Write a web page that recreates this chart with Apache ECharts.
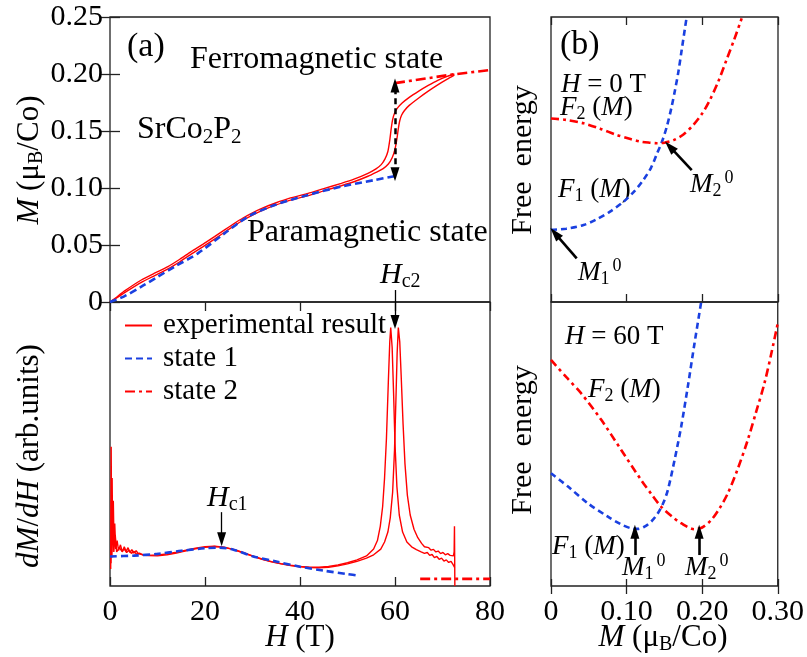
<!DOCTYPE html>
<html>
<head>
<meta charset="utf-8">
<script src="https://cdn.jsdelivr.net/npm/echarts@6/dist/echarts.min.js"></script>
<style>html,body{margin:0;padding:0;background:#fff}#c{width:807px;height:657px}</style>
</head>
<body>
<div id="c"></div>
<script>
// ---------- data ----------
const xLabelsA = ['0', '20', '40', '60', '80'];
const yLabelsA = ['0', '0.05', '0.10', '0.15', '0.20', '0.25'];
const xLabelsB = ['0', '0.10', '0.20', '0.30'];

// (a) top: M(H) experimental, two sweeps
const mExp1 = [[0,0],[1,0.003],[3,0.0095],[6.6,0.0193],[9.5,0.0255],[12.2,0.031],[14.7,0.0375],[17.1,0.0442],[19.6,0.0507],[22,0.0573],[24.2,0.0635],[26.2,0.069],[28,0.0737],[29.8,0.0778],[32.2,0.0825],[34.7,0.0866],[38,0.0913],[41.7,0.0953],[45,0.0995],[48.7,0.1041],[51.5,0.108],[54.3,0.1129],[56,0.1168],[57.1,0.1205],[57.9,0.1255],[58.5,0.132],[58.9,0.142],[59.2,0.152],[59.5,0.16],[59.9,0.1655],[60.5,0.17],[61.5,0.1745],[63,0.1795],[65,0.185],[67,0.19],[69,0.1945],[71,0.198],[72.5,0.2]];
const mExp2 = [[0,0],[1,0.0025],[3,0.008],[6.6,0.0172],[9.5,0.0233],[12.2,0.029],[14.7,0.0353],[17.1,0.042],[19.6,0.0486],[22,0.0552],[24.2,0.0614],[26.2,0.067],[28,0.0717],[29.8,0.0758],[32.2,0.0806],[34.7,0.0847],[38,0.0893],[41.7,0.0933],[45,0.0975],[48.7,0.102],[51.5,0.1057],[54.3,0.1103],[56,0.1137],[57.5,0.117],[58.6,0.121],[59.4,0.1265],[60,0.134],[60.4,0.143],[60.7,0.152],[61,0.159],[61.4,0.164],[62,0.168],[63,0.1725],[65,0.179],[67,0.185],[69,0.1905],[71,0.1955],[72.5,0.199]];
const mState1 = [[0,0],[3,0.005],[6.6,0.0134],[10,0.022],[13.6,0.031],[18.5,0.0427],[24.1,0.0602],[29.1,0.0749],[34.7,0.0851],[41.7,0.0939],[48.7,0.1012],[55.7,0.107],[60,0.1105]];
const mState2 = [[60,0.192],[72,0.1995],[80,0.2035]];

// (a) bottom: dM/dH (arb. units 0-100)
const dExp1 = [[0.15,6],[0.25,49],[0.35,12],[0.45,38],[0.55,18],[0.7,30],[0.85,14],[1.0,22],[1.2,13],[1.5,16],[1.8,12.5],[2.2,14.5],[2.6,12],[3,13.8],[3.4,12.2],[3.8,13.5],[4.2,11.8],[4.6,12.8],[5,11.6],[5.5,12.4],[6,11.3],[7,11],[8,10.8],[10,10.9],[12,11.3],[14,11.9],[16,12.6],[18,13.3],[20,13.8],[22,14],[24,13.7],[26,12.9],[28,11.8],[30,10.6],[32,9.5],[34,8.6],[36,7.9],[38,7.3],[40,6.9],[42,6.6],[44,6.6],[46,6.9],[48,7.4],[50,8.2],[52,9.2],[54,10.6],[55.5,13],[56.3,16],[56.9,21],[57.4,28],[57.8,38],[58.2,52],[58.6,72],[58.9,86],[59.1,91],[59.4,84],[59.7,68],[60,50],[60.4,35],[60.9,25],[61.6,19],[62.5,15.5],[63.5,13.8],[64.5,12.8],[65.5,12],[66.2,11.5],[66.8,11.8],[67.3,10.8],[67.8,11.1],[68.3,10],[68.8,10.4],[69.3,9.4],[69.8,9.8],[70.3,8.8],[70.8,9.2],[71.3,8.3],[71.8,8.7],[72.2,7.6],[72.4,8.2],[72.55,6.5]];
const dExp2 = [[0.2,8],[0.3,30],[0.4,10],[0.6,25],[0.8,12],[1.1,18],[1.4,12],[2,13.5],[2.5,12.2],[3,13],[3.5,11.8],[4,12.6],[4.5,11.5],[5,12.2],[5.6,11.2],[6.2,11.6],[7,10.9],[8,10.7],[10,10.6],[12,11],[14,11.6],[16,12.4],[18,13.1],[20,13.6],[22,13.9],[24,13.6],[26,12.8],[28,11.7],[30,10.5],[32,9.4],[34,8.5],[36,7.8],[38,7.2],[40,6.8],[42,6.5],[44,6.4],[46,6.6],[48,7.1],[50,7.8],[52,8.7],[54,9.8],[55.5,11],[57,13],[57.8,15.5],[58.5,19],[59,24],[59.5,33],[59.9,48],[60.2,66],[60.45,82],[60.7,91],[61,86],[61.3,74],[61.7,57],[62.1,43],[62.6,32],[63.2,25],[64,20],[64.8,17],[65.6,15],[66.2,13.8],[66.6,13.2],[67.1,13.5],[67.6,12.6],[68.1,12.9],[68.6,12],[69.1,12.3],[69.6,11.4],[70.1,11.8],[70.6,11],[71.1,11.4],[71.6,10.8],[72,11.3],[72.3,10.6],[72.45,12],[72.52,21],[72.56,11],[72.6,0]];
const dState1 = [[0,10.4],[5,10.7],[10,11.3],[15,12.4],[20,13.3],[23,13.5],[26,12.8],[30,10.5],[35,8.6],[40,6.8],[45,5.4],[50,4.2],[52.5,3.6]];
const dState2 = [[65.3,2.5],[80,2.5]];

// (b) free energy, arbitrary units 0-100
const f1H0 = [[0,25.3],[0.02,25.7],[0.043,27],[0.06,29],[0.078,31.7],[0.095,35],[0.11,38.8],[0.122,42.8],[0.132,47],[0.14,52],[0.147,56.5],[0.153,61.5],[0.159,68],[0.164,74.5],[0.1685,81],[0.1727,88.4],[0.179,99.5]];
const f2H0 = [[0,64.4],[0.02,63.9],[0.043,62.7],[0.065,60.8],[0.087,58.6],[0.105,57.2],[0.118,56.3],[0.13,55.9],[0.14,55.7],[0.15,55.9],[0.162,56.8],[0.175,58.8],[0.188,62.1],[0.2,66.2],[0.21,70.9],[0.221,77.3],[0.232,85],[0.242,92],[0.252,99.5]];
const f1H60 = [[0,39.7],[0.0225,35],[0.0489,29.1],[0.0753,24.4],[0.092,21.8],[0.106,20.3],[0.115,20.1],[0.1238,20.9],[0.133,22.8],[0.1414,25.6],[0.1485,29.2],[0.1546,33.8],[0.1635,44.4],[0.1722,56.1],[0.181,70.2],[0.1899,85.5],[0.1987,100]];
const f2H60 = [[0,79.6],[0.02,73.6],[0.04,67.8],[0.0665,58.5],[0.0929,47.9],[0.1193,37.3],[0.133,32.3],[0.1458,27.9],[0.16,24.5],[0.1722,22.1],[0.1899,20],[0.2,20.6],[0.2119,23.2],[0.2229,27.3],[0.2339,32.6],[0.247,41.2],[0.2603,51.4],[0.2714,61.3],[0.2824,71.4],[0.2912,81.5],[0.3,92.5]];

// ---------- style ----------
const F = '"Liberation Serif", "Times New Roman", "DejaVu Serif", serif';
const RED = '#ff0000', BLUE = '#1a40e0';
const solidRed = {color: RED, width: 1.4, type: 'solid'};
const dashBlue = {color: BLUE, width: 2.6, type: [7, 4]};
const dashDotRed = {color: RED, width: 2.6, type: [10, 4, 3, 4]};

function rich(size) {
  const s = Math.round(size * 0.66);
  return {
    i: {fontFamily: F, fontSize: size, fontStyle: 'italic', fill: '#000'},
    sub: {fontFamily: F, fontSize: s, fill: '#000', padding: [Math.round(size * 0.45), 0, 0, 0]},
    sup: {fontFamily: F, fontSize: s, fill: '#000', padding: [0, 0, Math.round(size * 0.5), 3]}
  };
}
function txt(x, y, text, size, align, rot) {
  return {
    type: 'text', x: x, y: y, rotation: rot || 0, silent: true,
    style: {text: text, fontFamily: F, fontSize: size, fill: '#000',
      align: align || 'left', verticalAlign: 'middle', rich: rich(size)}
  };
}

const grids = [
  {left: 110, top: 17, width: 380, height: 285},
  {left: 110, top: 302, width: 380, height: 284},
  {left: 551, top: 17, width: 227, height: 285},
  {left: 551, top: 302, width: 227, height: 284}
].map(g => Object.assign(g, {show: true, borderColor: '#222', borderWidth: 1.3, backgroundColor: 'transparent', containLabel: false}));

const labelStyle = {fontFamily: F, fontSize: 30, color: '#000'};
function axis(o) {
  return Object.assign({
    type: 'value', splitLine: {show: false}, axisLine: {show: false},
    axisTick: {show: false}, axisLabel: {show: false}
  }, o);
}
const tickIn = (len) => ({show: true, inside: true, length: len, lineStyle: {color: '#222', width: 1.3}});

const xAxes = [
  axis({gridIndex: 0, min: 0, max: 80, interval: 20}),
  axis({gridIndex: 0, min: 0, max: 80, interval: 20, position: 'top', axisTick: tickIn(9)}),
  axis({gridIndex: 1, min: 0, max: 80, interval: 20, axisTick: tickIn(9),
        axisLabel: Object.assign({show: true, margin: 11, formatter: (v) => xLabelsA[Math.round(v / 20)]}, labelStyle)}),
  axis({gridIndex: 2, min: 0, max: 0.3, interval: 0.1, axisTick: tickIn(8)}),
  axis({gridIndex: 2, min: 0, max: 0.3, interval: 0.1, position: 'top', axisTick: tickIn(8)}),
  axis({gridIndex: 3, min: 0, max: 0.3, interval: 0.1, position: 'top', axisTick: tickIn(8)}),
  axis({gridIndex: 3, min: 0, max: 0.3, interval: 0.1, axisTick: tickIn(7),
        axisLabel: Object.assign({show: true, margin: 11, formatter: (v) => xLabelsB[Math.round(v / 0.1)]}, labelStyle)})
];
const yAxes = [
  axis({gridIndex: 0, min: 0, max: 0.25, interval: 0.05, axisTick: tickIn(10),
        axisLabel: Object.assign({show: true, margin: 7, formatter: (v) => yLabelsA[Math.round(v / 0.05)]}, labelStyle)}),
  axis({gridIndex: 0, min: 0, max: 0.25, interval: 0.05, position: 'right', axisTick: tickIn(10)}),
  axis({gridIndex: 1, min: 0, max: 100}),
  axis({gridIndex: 2, min: 0, max: 100}),
  axis({gridIndex: 3, min: 0, max: 100})
];

function line(name, data, xi, yi, ls, smooth) {
  return {type: 'line', name: name, data: data, xAxisIndex: xi, yAxisIndex: yi,
    showSymbol: false, symbol: 'none', lineStyle: ls, itemStyle: {color: ls.color},
    smooth: smooth || false, silent: true, z: 3};
}
function arrows(xi, yi, items, ls) {
  return {type: 'line', name: 'arrows', data: [], xAxisIndex: xi, yAxisIndex: yi, clip: false, silent: true,
    markLine: {silent: true, animation: false, symbol: ['none', 'triangle'], symbolSize: [9, 14],
      label: {show: false}, lineStyle: Object.assign({color: '#000', width: 2}, ls || {type: 'solid'}),
      emphasis: {disabled: true},
      data: items}};
}
const seg = (a, b, s0, s1) => [{coord: a, symbol: s0}, {coord: b, symbol: s1}];

const series = [
  line('experimental result', mExp1, 0, 0, solidRed, 0.2),
  line('experimental result', mExp2, 0, 0, solidRed, 0.2),
  line('state 1', mState1, 0, 0, dashBlue, 0.3),
  line('state 2', mState2, 0, 0, dashDotRed, false),
  arrows(0, 0, [seg([60, 0.112], [60, 0.19], 'triangle', 'triangle')], {type: [6, 4], width: 2.5}),
  arrows(0, 0, [seg([60, 0.0105], [60, 0], 'none', 'none')], {type: 'solid', width: 1.3}),
  line('experimental result', dExp1, 2, 2, solidRed, false),
  line('experimental result', dExp2, 2, 2, solidRed, false),
  line('state 1', dState1, 2, 2, dashBlue, 0.3),
  line('state 2', dState2, 2, 2, dashDotRed, false),
  arrows(2, 2, [seg([23.5, 26], [23.5, 16.5], 'none', 'triangle'), seg([60, 100], [60, 93], 'none', 'triangle')], {type: 'solid', width: 1.3}),
  line('F1 0T', f1H0, 3, 3, {color: BLUE, width: 2.6, type: [6, 4]}, 0.3),
  line('F2 0T', f2H0, 3, 3, {color: RED, width: 2.6, type: [8, 4, 3, 4]}, 0.3),
  arrows(3, 3, [seg([0.186, 46.3], [0.157, 54.5], 'none', 'triangle'), seg([0.034, 15.3], [0.0053, 24.1], 'none', 'triangle')], {type: 'solid', width: 2.6}),
  line('F1 60T', f1H60, 6, 4, {color: BLUE, width: 2.6, type: [6, 4]}, 0.3),
  line('F2 60T', f2H60, 6, 4, {color: RED, width: 2.6, type: [8, 4, 3, 4]}, 0.3),
  arrows(6, 4, [seg([0.111, 10.9], [0.111, 19.1], 'none', 'triangle'), seg([0.196, 10.9], [0.196, 19.1], 'none', 'triangle')], {type: 'solid', width: 2.6})
];

const graphics = [
  txt(127, 47, '(a)', 34),
  txt(190, 60, 'Ferromagnetic state', 32),
  txt(137, 130, 'SrCo{sub|2}P{sub|2}', 32),
  txt(247, 233, 'Paramagnetic state', 32),
  txt(380, 275, '{i|H}{sub|c2}', 30),
  txt(207, 498, '{i|H}{sub|c1}', 30),
  txt(560, 45, '(b)', 34),
  txt(561, 85, '{i|H} = 0 T', 27),
  txt(560, 108, '{i|F}{sub|2} ({i|M})', 27),
  txt(558, 190, '{i|F}{sub|1} ({i|M})', 27),
  txt(690, 185, '{i|M}{sub|2}{sup|0}', 27),
  txt(578, 273, '{i|M}{sub|1}{sup|0}', 27),
  txt(565, 337, '{i|H} = 60 T', 27),
  txt(588, 390, '{i|F}{sub|2} ({i|M})', 27),
  txt(552, 547, '{i|F}{sub|1} ({i|M})', 27),
  txt(622, 568, '{i|M}{sub|1}{sup|0}', 27),
  txt(685, 568, '{i|M}{sub|2}{sup|0}', 27),
  txt(30, 160, '{i|M} (μ{sub|B}/Co)', 31, 'center', Math.PI / 2),
  txt(30, 456, '{i|dM}/{i|dH} (arb.units)', 31, 'center', Math.PI / 2),
  txt(523, 160, 'Free  energy', 30, 'center', Math.PI / 2),
  txt(523, 440, 'Free  energy', 30, 'center', Math.PI / 2),
  txt(300, 638, '{i|H} (T)', 31, 'center'),
  txt(663, 638, '{i|M} (μ{sub|B}/Co)', 31, 'center')
];

const chart = echarts.init(document.getElementById('c'), null, {renderer: 'canvas'});
chart.setOption({
  animation: false,
  backgroundColor: '#fff',
  grid: grids,
  xAxis: xAxes,
  yAxis: yAxes,
  legend: {
    data: ['experimental result', 'state 1', 'state 2'],
    orient: 'vertical', left: 119, top: 306, itemWidth: 27, itemHeight: 12, itemGap: 4,
    selectedMode: false,
    itemStyle: {color: 'rgba(0,0,0,0)', borderWidth: 0, opacity: 0},
    textStyle: {fontFamily: F, fontSize: 29, color: '#000', lineHeight: 29, padding: [0, 0, 0, 6]}
  },
  series: series,
  graphic: graphics
});
</script>
</body>
</html>
